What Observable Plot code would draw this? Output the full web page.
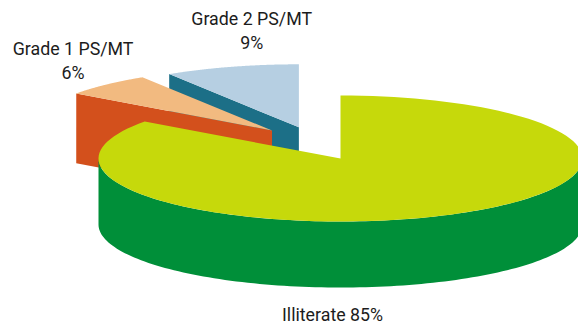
<!DOCTYPE html>
<html>
<head>
<meta charset="utf-8">
<script src="https://cdn.jsdelivr.net/npm/d3@7"></script>
<script src="https://cdn.jsdelivr.net/npm/@observablehq/plot@0.6"></script>
<style>
  html, body { margin: 0; padding: 0; background: #fff; overflow: hidden; }
  svg { display: block; }
</style>
</head>
<body>
<div id="chart"></div>
<script>
// Shares of each literacy group, clockwise from twelve o'clock
const groups = ["Illiterate", "Grade 1 PS/MT", "Grade 2 PS/MT"];
const shares = [85, 6, 9];
const topColors = ["#c6d90b", "#f2ba80", "#b6cfe2"];
const wallColors = ["#008f39", "#d3501c", "#1c6f87"];

// Pulled-out offset and wall height of each slice, in pie radii
const offsetX = [0, -0.283, -0.172];
const offsetY = [0, 0.445, 0.495];
const wallHeight = [1.048, 1.11, 1.048];

// Pie geometry: unit circle, projected to an ellipse by the x and y scales
const width = 578, height = 327;
const radiusX = 242, radiusY = 63, centreX = 340, centreY = 158;

const total = d3.sum(shares);
let running = 0;
const slices = groups.map((name, i) => {
  const start = running / total * 2 * Math.PI;
  running += shares[i];
  const end = running / total * 2 * Math.PI;
  return {name, i, start, end, ox: offsetX[i], oy: offsetY[i], wall: wallHeight[i]};
});

const rim = (s, a, drop = 0) => ({x: s.ox + Math.sin(a), y: s.oy + Math.cos(a) - drop});
const apex = (s, drop = 0) => ({x: s.ox, y: s.oy - drop});
const sweep = (a0, a1) => d3.range(0, 121).map(k => a0 + (a1 - a0) * k / 120);

const parts = [];
const addPart = (id, fill, points) => points.forEach(p => parts.push({...p, id, fill}));

// Painted from the back of the pie to the front
for (const s of [slices[2], slices[1], slices[0]]) {
  if (s.i === 0) {
    // Curved outer wall along the front half of the big slice
    const front = sweep(Math.PI / 2, 3 * Math.PI / 2);
    addPart("wall" + s.i, wallColors[s.i], [
      ...front.map(a => rim(s, a)),
      ...front.slice().reverse().map(a => rim(s, a, s.wall))
    ]);
  } else {
    // Flat cut face running from the rim to the centre
    addPart("wall" + s.i, wallColors[s.i], [
      rim(s, s.start), apex(s), apex(s, s.wall), rim(s, s.start, s.wall)
    ]);
  }
  addPart("top" + s.i, topColors[s.i], [apex(s), ...sweep(s.start, s.end).map(a => rim(s, a))]);
}

// Category labels with their percentages, placed in pie units
const labelX = [-0.033, -1.105, -0.367];
const labelY = [-2.46, 1.57, 2.045];
const labels = slices.map(s => ({
  x: labelX[s.i],
  y: labelY[s.i],
  text: s.i === 0 ? `${s.name} ${shares[s.i]}%` : `${s.name}\n${shares[s.i]}%`
}));

const chart = Plot.plot({
  width, height,
  margin: 0,
  style: {background: "#fff"},
  x: {axis: null, domain: [-centreX / radiusX, (width - centreX) / radiusX], range: [0, width]},
  y: {axis: null, domain: [centreY / radiusY, (centreY - height) / radiusY], range: [0, height]},
  marks: [
    Plot.line(parts, {x: "x", y: "y", z: "id", fill: "fill", stroke: "none", curve: "linear"}),
    Plot.text(labels, {
      x: "x", y: "y", text: "text",
      fontFamily: "Roboto", fontSize: 17.8, lineHeight: 1.35,
      fill: "#1c1c1c"
    })
  ]
});
document.getElementById("chart").appendChild(chart);
</script>
</body>
</html>
